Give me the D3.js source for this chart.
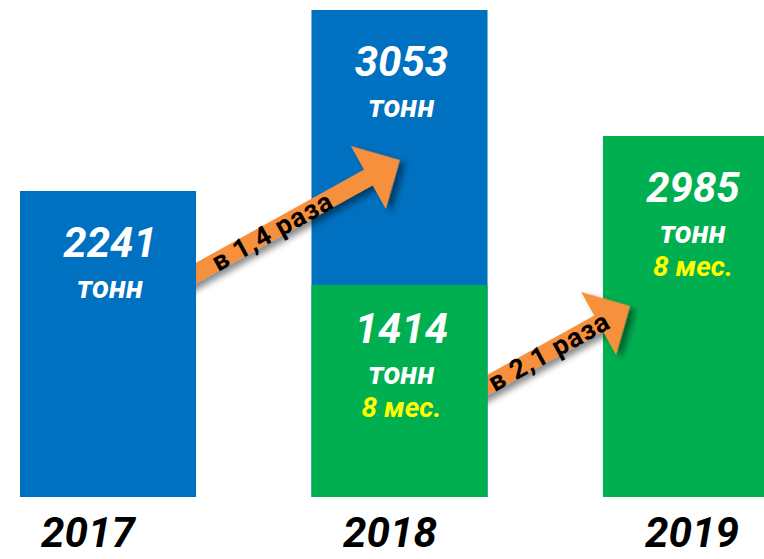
<!DOCTYPE html>
<html>
<head>
<meta charset="utf-8">
<script src="https://cdn.jsdelivr.net/npm/d3@7"></script>
<style>
  body { margin: 0; background: #fff; }
  svg { display: block; }
  .num { font-family: Roboto, "Noto Sans", sans-serif; font-weight: 700; font-style: italic; fill: #fff; }
  .unit { font-family: Roboto, "Noto Sans", sans-serif; font-weight: 700; font-style: italic; fill: #fff; }
  .period { font-family: Roboto, "Noto Sans", sans-serif; font-weight: 700; font-style: italic; fill: #ffff00; }
  .year { font-family: Roboto, "Noto Sans", sans-serif; font-weight: 700; font-style: italic; fill: #000; }
  .growth { font-family: Roboto, "Noto Sans", sans-serif; font-weight: 700; fill: #000; }
</style>
</head>
<body>
<div id="chart"></div>
<script>
/*------Data: tonnes per year (full year and first 8 months)------*/
var years = ["2017", "2018", "2019"];
var fullYear = [2241, 3053, null];
var eightMonths = [null, 1414, 2985];
var unitLabel = "тонн";
var periodLabel = "8 мес.";
var growthFrom = ["2017", "2018"];
var growthTo = ["2018", "2019"];
var growthLabels = ["в 1,4 раза", "в 2,1 раза"];

var width = 764, height = 559;
var blue = "#0070c0", green = "#00b050", orange = "#f7903c";

var svg = d3.select("#chart")
  .append("svg")
  .attr("width", width)
  .attr("height", height);

// drop shadow for the arrows
var defs = svg.append("defs");
defs.append("filter")
    .attr("id", "shadow")
    .attr("x", "-20%").attr("y", "-40%")
    .attr("width", "150%").attr("height", "200%")
  .append("feDropShadow")
    .attr("dx", 3).attr("dy", 6)
    .attr("stdDeviation", 3)
    .attr("flood-color", "#000")
    .attr("flood-opacity", 0.45);

/*------Scales------*/
var x = d3.scaleBand()
    .domain(years)
    .range([20, 779])
    .paddingInner(0.396)
    .paddingOuter(0);

// the picture is an infographic, bar heights are not proportional
var y = d3.scaleLinear()
    .domain([0, 1414, 2241, 2985, 3053])
    .range([497, 285, 191, 136, 10]);

var xLabel = d3.scalePoint()
    .domain(years)
    .range([88, 692]);

/*------Bar segments------*/
var segments = [];
years.forEach(function(yr, i) {
  if (fullYear[i] != null) segments.push({ year: yr, value: fullYear[i], color: blue, period: false });
  if (eightMonths[i] != null) segments.push({ year: yr, value: eightMonths[i], color: green, period: true });
});

function drawBars(yr) {
  var g = svg.append("g").attr("class", "bar-" + yr);
  segments.filter(function(d) { return d.year == yr; }).forEach(function(d) {
    var top = y(d.value);
    var cx = x(d.year) + x.bandwidth() / 2 + 2;
    // text block sits a bit higher in the shorter green 2018 segment
    var off = d.period && d.year == "2018" ? -6 : 2;
    g.append("rect")
      .attr("x", x(d.year))
      .attr("y", top)
      .attr("width", x.bandwidth())
      .attr("height", y(0) - top)
      .attr("fill", d.color);
    g.append("text").attr("class", "num")
      .attr("x", cx).attr("y", top + 64 + off)
      .attr("text-anchor", "middle")
      .style("font-size", "42px")
      .text(d.value);
    g.append("text").attr("class", "unit")
      .attr("x", cx).attr("y", top + 105 + off)
      .attr("text-anchor", "middle")
      .style("font-size", "31px")
      .text(unitLabel);
    if (d.period) {
      g.append("text").attr("class", "period")
        .attr("x", cx).attr("y", top + 138 + off)
        .attr("text-anchor", "middle")
        .style("font-size", "28px")
        .text(periodLabel);
    }
  });
}

/*------Growth arrows------*/
var angle = -29;
function drawArrow(i) {
  var from = growthFrom[i], to = growthTo[i];
  var fromTop = d3.min(segments.filter(function(d) { return d.year == from; }), function(d) { return y(d.value); });
  var fromLow = d3.max(segments.filter(function(d) { return d.year == from; }), function(d) { return y(d.value); });
  var x0 = x(from) + x.bandwidth();
  var y0 = i == 0 ? fromTop + 82 : fromLow + 100;
  var len = i == 0 ? 233 : 163;
  var h = 9, hw = 36, hl = 36;
  var pts = [[-30, -h], [len - hl, -h], [len - hl, -hw], [len, 0], [len - hl, hw], [len - hl, h], [-30, h]];
  var g = svg.append("g")
    .attr("transform", "translate(" + x0 + "," + y0 + ") rotate(" + angle + ")");
  g.append("polygon")
    .attr("points", pts.map(function(p) { return p.join(","); }).join(" "))
    .attr("fill", orange)
    .attr("filter", "url(#shadow)");
  var mid = i == 0 ? 87 : 70;
  g.append("text").attr("class", "growth")
    .attr("x", mid).attr("y", 0)
    .attr("dy", "0.36em")
    .attr("text-anchor", "middle")
    .style("font-size", "27px")
    .style("letter-spacing", "1px")
    .text(growthLabels[i]);
}

// layer order: later bars sit under the arrow that points at them
drawBars("2019");
drawArrow(1);
drawBars("2018");
drawArrow(0);
drawBars("2017");

/*------Year labels------*/
svg.selectAll(".year")
  .data(years)
  .enter()
  .append("text")
    .attr("class", "year")
    .attr("x", function(d) { return xLabel(d); })
    .attr("y", 547)
    .attr("text-anchor", "middle")
    .attr("textLength", 94)
    .attr("lengthAdjust", "spacingAndGlyphs")
    .style("font-size", "43px")
    .text(function(d) { return d; });
</script>
</body>
</html>
